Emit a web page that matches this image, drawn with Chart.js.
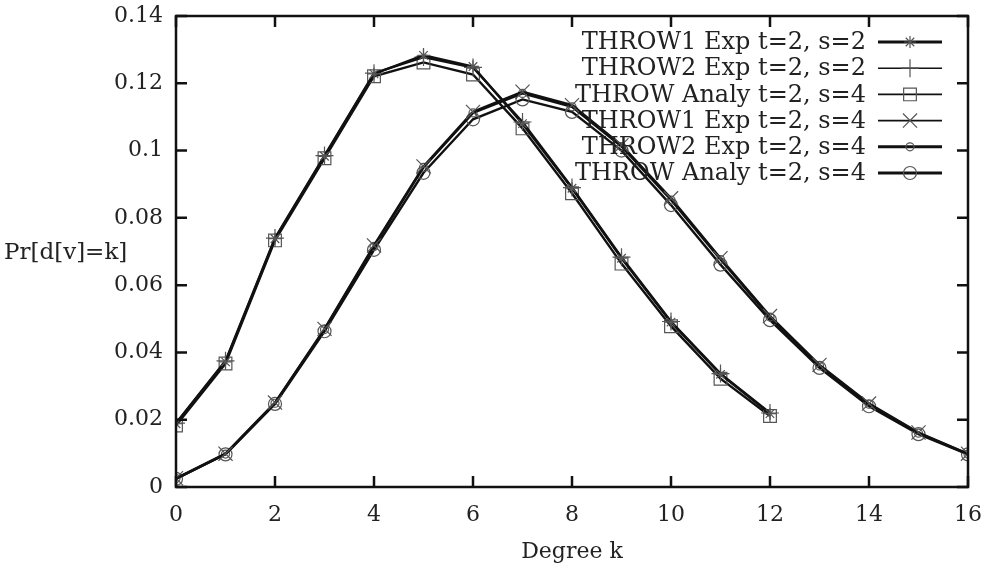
<!DOCTYPE html>
<html>
<head>
<meta charset="utf-8">
<script src="https://cdn.jsdelivr.net/npm/chart.js@4"></script>
<style>
html,body{margin:0;padding:0;background:#fff;}
#wrap{width:992px;height:569px;position:relative;}
</style>
</head>
<body>
<div id="wrap"><canvas id="c" width="992" height="569"></canvas></div>
<script>
const degreesS2 = [0,1,2,3,4,5,6,7,8,9,10,11,12];
const degreesS4 = [0,1,2,3,4,5,6,7,8,9,10,11,12,13,14,15,16];
const throw1ExpS2 = [0.0188,0.0372,0.0738,0.0983,0.1228,0.1283,0.1250,0.1080,0.0888,0.0680,0.0490,0.0335,0.0218];
const throw2ExpS2 = [0.0190,0.0375,0.0740,0.0985,0.1230,0.1278,0.1247,0.1085,0.0890,0.0683,0.0492,0.0337,0.0220];
const analyS2     = [0.0183,0.0367,0.0733,0.0977,0.1221,0.1262,0.1226,0.1066,0.0873,0.0664,0.0478,0.0322,0.0211];
const throw1ExpS4 = [0.0026,0.0099,0.0251,0.0470,0.0718,0.0953,0.1115,0.1175,0.1135,0.1016,0.0858,0.0680,0.0508,0.0363,0.0248,0.0162,0.0099];
const throw2ExpS4 = [0.0025,0.0098,0.0249,0.0468,0.0715,0.0950,0.1112,0.1170,0.1130,0.1012,0.0853,0.0676,0.0505,0.0360,0.0246,0.0160,0.0098];
const analyS4     = [0.0024,0.0097,0.0247,0.0463,0.0705,0.0934,0.1093,0.1152,0.1115,0.1000,0.0838,0.0661,0.0496,0.0354,0.0240,0.0157,0.0097];
const seriesLabels = ["THROW1 Exp t=2, s=2","THROW2 Exp t=2, s=2","THROW Analy t=2, s=4","THROW1 Exp t=2, s=4","THROW2 Exp t=2, s=4","THROW Analy t=2, s=4"];
const xTicks = [0,2,4,6,8,10,12,14,16];
const yTicks = [0,0.02,0.04,0.06,0.08,0.1,0.12,0.14];
const yTickLabels = ["0","0.02","0.04","0.06","0.08","0.1","0.12","0.14"];
const xTitle = "Degree k";
const yTitle = "Pr[d[v]=k]";

const FONT = "'DejaVu Serif', 'Liberation Serif', serif";
const pts = (xs, ys) => xs.map((x,i)=>({x:x,y:ys[i]}));
const MARK = '#555';

const styles = [
  {pointStyle:'star', r:6, w:3},
  {pointStyle:'cross', r:9, w:1.6},
  {pointStyle:'rect', r:9, w:1.6},
  {pointStyle:'crossRot', r:10, w:1.6},
  {pointStyle:'circle', r:4, w:3},
  {pointStyle:'circle', r:6.5, w:3}
];
const dataArr = [pts(degreesS2,throw1ExpS2),pts(degreesS2,throw2ExpS2),pts(degreesS2,analyS2),
                 pts(degreesS4,throw1ExpS4),pts(degreesS4,throw2ExpS4),pts(degreesS4,analyS4)];

const datasets = dataArr.map((d,i)=>({
  label: seriesLabels[i],
  data: d,
  borderColor:'#111',
  borderWidth: 2.4,
  pointStyle: styles[i].pointStyle,
  pointRadius: styles[i].r,
  pointBorderColor: MARK,
  pointBackgroundColor:'rgba(0,0,0,0)',
  pointBorderWidth: 1.2,
  tension:0,
  fill:false
}));

const frame = {
  id:'frame',
  afterDraw(chart){
    const ctx = chart.ctx, a = chart.chartArea;
    const xs = chart.scales.x, ys = chart.scales.y;
    ctx.save();
    ctx.strokeStyle = '#111';
    ctx.lineWidth = 2.5;
    ctx.strokeRect(a.left, a.top, a.right-a.left, a.bottom-a.top);
    const L = 11;
    ctx.beginPath();
    xTicks.forEach(v=>{
      const px = xs.getPixelForValue(v);
      ctx.moveTo(px,a.bottom); ctx.lineTo(px,a.bottom-L);
      ctx.moveTo(px,a.top); ctx.lineTo(px,a.top+L);
    });
    yTicks.forEach(v=>{
      const py = ys.getPixelForValue(v);
      ctx.moveTo(a.left,py); ctx.lineTo(a.left+L,py);
      ctx.moveTo(a.right,py); ctx.lineTo(a.right-L,py);
    });
    ctx.stroke();
    // titles
    ctx.fillStyle = '#222';
    ctx.font = "22px " + FONT;
    ctx.textBaseline = 'middle';
    ctx.textAlign = 'center';
    ctx.fillText(xTitle, (a.left+a.right)/2, 552);
    ctx.textAlign = 'left';
    ctx.font = "23px " + FONT;
    ctx.fillText(yTitle, 4, 253);
    // legend
    ctx.font = "24px " + FONT;
    const textRight = 866, lx0 = 878, lx1 = 942, y0 = 42, dy = 26.2;
    chart.data.datasets.forEach((ds,i)=>{
      const y = y0 + i*dy;
      ctx.fillStyle = '#222';
      ctx.textAlign = 'right';
      ctx.fillText(ds.label, textRight, y+1);
      ctx.strokeStyle = '#111';
      ctx.lineWidth = styles[i].w;
      ctx.beginPath(); ctx.moveTo(lx0,y); ctx.lineTo(lx1,y); ctx.stroke();
      ctx.save();
      ctx.strokeStyle = MARK; ctx.fillStyle = 'rgba(0,0,0,0)'; ctx.lineWidth = 1.2;
      Chart.helpers.drawPoint(ctx, {pointStyle: ds.pointStyle, radius: ds.pointRadius, borderWidth: 1.2, rotation:0}, (lx0+lx1)/2, y);
      ctx.restore();
    });
    ctx.restore();
  }
};

new Chart(document.getElementById('c'), {
  type:'line',
  data:{datasets},
  options:{
    responsive:false,
    animation:false,
    devicePixelRatio:1,
    layout:{padding:{top:16,right:24,bottom:0,left:0}},
    plugins:{legend:{display:false},tooltip:{enabled:false}},
    scales:{
      x:{
        type:'linear', min:0, max:16,
        afterFit(s){ s.height = 82; s.paddingLeft = 0; s.paddingRight = 0; },
        afterBuildTicks(s){ s.ticks = xTicks.map(v=>({value:v})); },
        grid:{display:false, drawTicks:false},
        border:{display:false},
        ticks:{color:'#222', font:{family:FONT,size:22}, padding:15, maxRotation:0,
               callback:(v)=>String(v)}
      },
      y:{
        type:'linear', min:0, max:0.14,
        afterFit(s){ s.width = 176; s.paddingTop = 0; s.paddingBottom = 0; },
        afterBuildTicks(s){ s.ticks = yTicks.map(v=>({value:v})); },
        grid:{display:false, drawTicks:false},
        border:{display:false},
        ticks:{color:'#222', font:{family:FONT,size:22}, padding:13,
               callback:(v)=>{ const i = yTicks.findIndex(t=>Math.abs(t-v)<1e-9); return i>=0?yTickLabels[i]:''; }}
      }
    }
  },
  plugins:[frame]
});
</script>
</body>
</html>
